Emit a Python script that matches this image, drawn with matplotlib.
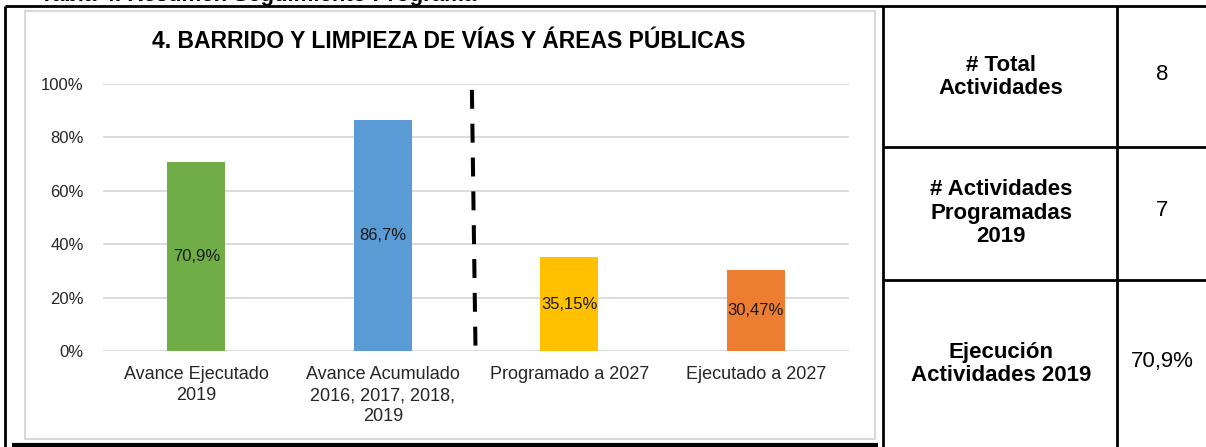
import matplotlib
matplotlib.use("Agg")
import matplotlib.pyplot as plt
from matplotlib.lines import Line2D
from matplotlib.patches import Rectangle

# ---- data ----
categories = ["Avance Ejecutado\n2019", "Avance Acumulado\n2016, 2017, 2018,\n2019",
              "Programado a 2027", "Ejecutado a 2027"]
values = [70.9, 86.7, 35.15, 30.47]
value_labels = ["70,9%", "86,7%", "35,15%", "30,47%"]
colors = ["#70AD47", "#5B9BD5", "#FFC000", "#ED7D31"]
yticks = [0, 20, 40, 60, 80, 100]
ytick_labels = ["0%", "20%", "40%", "60%", "80%", "100%"]
title = "4. BARRIDO Y LIMPIEZA DE VÍAS Y ÁREAS PÚBLICAS"
caption = "Tabla 4. Resumen Seguimiento Programa"
table_labels = ["# Total\nActividades", "# Actividades\nProgramadas\n2019", "Ejecución\nActividades 2019"]
table_values = ["8", "7", "70,9%"]
divider_x = [1.478, 1.497]
divider_y = [97.8, 2.0]

plt.rcParams['font.family'] = ['Liberation Sans', 'DejaVu Sans']

W, H = 1206, 447
fig = plt.figure(figsize=(W / 100, H / 100), dpi=100)
fig.patch.set_facecolor("white")

def fx(px):
    return px / W

def fy(py):
    return 1 - py / H

# clipped caption at top (only the bottom of its glyphs shows)
fig.text(fx(40), fy(0.8), caption, fontsize=16,
         fontweight="bold", ha="left", va="baseline", color="black")

# chart box (light gray)
fig.add_artist(Rectangle((fx(25), fy(439)), fx(875) - fx(25), fy(11) - fy(439),
                         transform=fig.transFigure, fill=False, edgecolor="#D9D9D9", lw=1.5))

# borders
def hline(x0, x1, y, lw=2.0):
    fig.add_artist(Line2D([fx(x0), fx(x1)], [fy(y), fy(y)], transform=fig.transFigure,
                          color="black", lw=lw, solid_capstyle="butt"))

def vline(x, y0, y1, lw=2.0):
    fig.add_artist(Line2D([fx(x), fx(x)], [fy(y0), fy(y1)], transform=fig.transFigure,
                          color="black", lw=lw, solid_capstyle="butt"))

hline(5, 1206, 6)
vline(5, 6, 447)
hline(12, 878, 445, lw=3.0)
vline(883, 6, 447)
vline(1117, 6, 447)
hline(883, 1206, 147)
hline(883, 1206, 280)

# ---- chart ----
ax = fig.add_axes([fx(103), fy(351), fx(849) - fx(103), fy(84) - fy(351)])
x = list(range(len(categories)))
ax.bar(x, values, width=0.31, color=colors, zorder=3)
ax.set_xlim(-0.5, 3.5)
ax.set_ylim(0, 100)
ax.set_yticks(yticks)
ax.set_yticklabels(ytick_labels, fontsize=12, color="#262626")
ax.set_xticks(x)
ax.set_xticklabels(categories, fontsize=13, color="#262626", linespacing=1.3)
ax.tick_params(axis="both", length=0)
ax.tick_params(axis="y", pad=14)
ax.tick_params(axis="x", pad=11)
ax.grid(axis="y", color="#D9D9D9", lw=1.3, zorder=0)
for s in ax.spines.values():
    s.set_visible(False)
ax.set_facecolor("none")

for xi, v, lab in zip(x, values, value_labels):
    ax.text(xi, v / 2, lab, ha="center", va="center", fontsize=12, color="#1a1a1a", zorder=4)

ax.plot(divider_x, divider_y, color="black", lw=2.9, dashes=(4.7, 3.7), zorder=5,
        solid_capstyle="butt", dash_capstyle="butt")

fig.text(fx(449), fy(42), title, fontsize=16.5, fontweight="bold", ha="center", va="center",
         color="black")

# ---- table text ----
row_centers = [77, 213, 364]
for yc, lab, val in zip(row_centers, table_labels, table_values):
    fig.text(fx(1001), fy(yc), lab, fontsize=16, fontweight="bold", ha="center", va="center",
             linespacing=1.15, color="black")
    fig.text(fx(1162), fy(yc - 2), val, fontsize=16, ha="center", va="center", color="black")

fig.savefig("out.png", dpi=100, facecolor="white")
